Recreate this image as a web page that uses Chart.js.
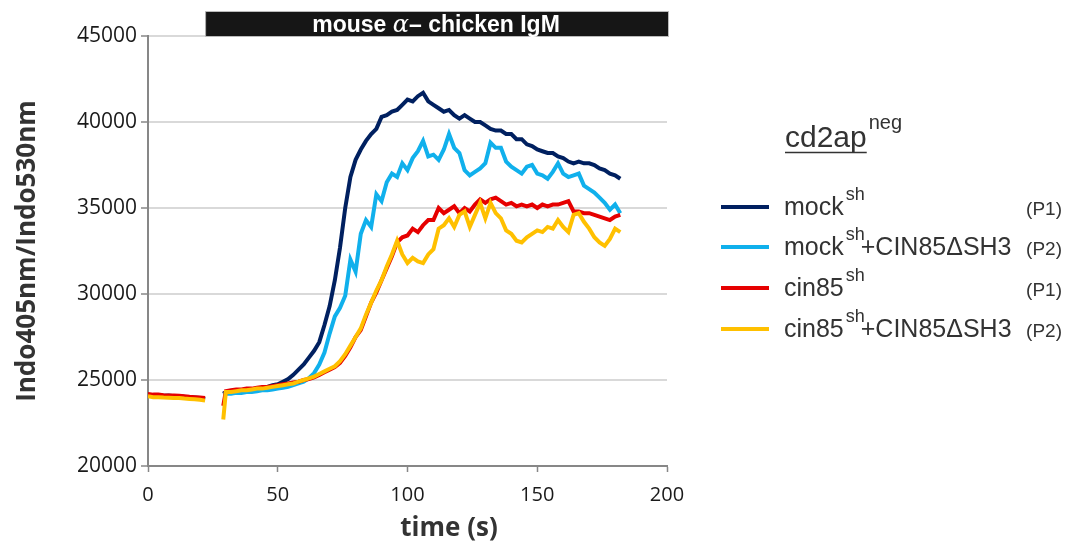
<!DOCTYPE html>
<html>
<head>
<meta charset="utf-8">
<script src="https://cdn.jsdelivr.net/npm/chart.js@4"></script>
<style>
  html, body { margin: 0; padding: 0; background: #fff; }
</style>
</head>
<body>
<canvas id="myChart" width="1067" height="544"></canvas>
<script>
// tiempos (s) — el 26 es el hueco entre los dos tramos
const times = [0, 2, 4, 6, 8, 10, 12, 14, 16, 18, 20, 22, 26, 29,
  30, 32, 34, 36, 38, 40, 42, 44, 46, 48, 50, 52, 54, 56, 58, 60,
  62, 64, 66, 68, 70, 72, 74, 76, 78, 80, 82, 84, 86, 88, 90, 92, 94, 96, 98, 100, 102, 104, 106, 108, 110,
  112, 114, 116, 118, 120, 122, 124, 126, 128, 130, 132, 134, 136, 138, 140, 142, 144, 146, 148, 150,
  152, 154, 156, 158, 160, 162, 164, 166, 168, 170, 172, 174, 176, 178, 180, 182];

const mockP1 = [24150, 24120, 24100, 24080, 24100, 24050, 24050, 24020, 24000, 23980, 23950, 23900, null, 24200,
  24300, 24300, 24350, 24400, 24400, 24450, 24500, 24550, 24600, 24700, 24750, 24900, 25050, 25300, 25600, 25900,
  26300, 26700, 27200, 28200, 29300, 30800, 32700, 35000, 36800, 37800, 38400, 38900, 39300, 39600, 40300, 40400, 40600, 40700, 41000, 41300, 41200, 41500, 41700, 41200, 41000,
  40800, 40600, 40700, 40400, 40200, 40400, 40200, 40000, 40000, 39800, 39600, 39500, 39500, 39300, 39300, 39000, 39000, 38700, 38600, 38400,
  38300, 38200, 38200, 38000, 37900, 37700, 37600, 37700, 37600, 37600, 37500, 37300, 37200, 37000, 36900, 36700];

const mockP2 = [24100, 24080, 24060, 24050, 24030, 24000, 24000, 23980, 23960, 23940, 23920, 23880, null, 24150,
  24200, 24200, 24250, 24250, 24300, 24300, 24350, 24400, 24400, 24450, 24500, 24550, 24600, 24700, 24800, 24900,
  25100, 25400, 25900, 26600, 27700, 28700, 29200, 29900, 32000, 31300, 33500, 34300, 33900, 35800, 35400, 36500, 37000, 36800, 37600, 37200, 37900, 38300, 38900, 38000, 38100,
  37800, 38400, 39300, 38500, 38200, 37200, 36900, 37100, 37300, 37600, 38800, 38500, 38500, 37700, 37400, 37200, 37000, 37400, 37500, 37000,
  36900, 36700, 37100, 37600, 37000, 36800, 36900, 37000, 36300, 36100, 35900, 35600, 35300, 34900, 35200, 34700];

const cin85P1 = [24180, 24150, 24150, 24120, 24100, 24100, 24080, 24050, 24020, 24000, 23980, 23950, null, 23500,
  24350, 24400, 24450, 24450, 24500, 24500, 24550, 24600, 24600, 24650, 24700, 24750, 24800, 24850, 24900, 25000,
  25050, 25150, 25300, 25450, 25600, 25750, 26000, 26400, 26900, 27500, 27900, 28700, 29500, 30100, 30800, 31500, 32200, 33000, 33300, 33400, 33800, 33600, 34000, 34300, 34300,
  35000, 34700, 34900, 35100, 34700, 35000, 34800, 35200, 35500, 35300, 35500, 35600, 35400, 35200, 35300, 35100, 35200, 35100, 35200, 35000,
  35200, 35100, 35200, 35200, 35300, 35400, 34800, 34800, 34700, 34700, 34600, 34500, 34400, 34300, 34500, 34600];

const cin85P2 = [24050, 24000, 24000, 23980, 23970, 23950, 23950, 23920, 23900, 23880, 23850, 23800, null, 22700,
  24300, 24300, 24350, 24400, 24400, 24450, 24500, 24500, 24550, 24600, 24650, 24700, 24750, 24800, 24900, 25000,
  25100, 25200, 25350, 25500, 25650, 25800, 26100, 26500, 27000, 27500, 28000, 28800, 29500, 30200, 30800, 31600, 32300, 33100, 32300, 31800, 32100, 31900, 31800, 32300, 32600,
  33800, 34000, 34400, 33900, 34600, 34800, 33900, 34600, 35300, 34400, 35300, 34700, 34400, 33700, 33500, 33100, 33000, 33300, 33500, 33700,
  33600, 33900, 33800, 34300, 33900, 33600, 34600, 34700, 34200, 33800, 33300, 33000, 32800, 33200, 33800, 33600];

const yTicks = [20000, 25000, 30000, 35000, 40000, 45000];
const xTicks = [0, 50, 100, 150, 200];

const seriesNames = ['mock', 'mock', 'cin85', 'cin85'];
const seriesExtra = ['', '+CIN85\u0394SH3', '', '+CIN85\u0394SH3'];
const seriesTags = ['(P1)', '(P2)', '(P1)', '(P2)'];
const seriesColors = ['#002060', '#10b0ec', '#e60000', '#ffc000'];
const stimStart = 22; // comienzo de la barra de estímulo (s)

function pts(values) {
  return times.map((t, i) => ({ x: t, y: values[i] }));
}

const axisGray = '#878787';
const labelFont = '"Open Sans", sans-serif';

// barra negra de estímulo, título del eje x y leyenda a mano
const extras = {
  id: 'extras',
  afterDraw(chart) {
    const ctx = chart.ctx;
    const xs = chart.scales.x;
    const area = chart.chartArea;
    ctx.save();

    // barra
    const bx = xs.getPixelForValue(stimStart);
    ctx.fillStyle = '#161616';
    ctx.fillRect(bx, 12, area.right + 1 - bx, 24);
    ctx.strokeStyle = '#bbbbbb';
    ctx.lineWidth = 1;
    ctx.strokeRect(bx + 0.5, 11.5, area.right + 1 - bx, 25);

    const parts = [
      ['mouse ', 'bold 23px "Liberation Sans", Arial'],
      ['\u03b1', 'italic 24px "DejaVu Serif", serif'],
      ['\u2013 chicken IgM', 'bold 23px "Liberation Sans", Arial']
    ];
    let total = 0;
    parts.forEach(p => { ctx.font = p[1]; total += ctx.measureText(p[0]).width; });
    let tx = (bx + area.right) / 2 - total / 2;
    ctx.fillStyle = '#ffffff';
    ctx.textBaseline = 'alphabetic';
    ctx.textAlign = 'left';
    parts.forEach(p => {
      ctx.font = p[1];
      ctx.fillText(p[0], tx, 32);
      tx += ctx.measureText(p[0]).width;
    });

    // título del eje x (desplazado a la derecha como en el original)
    ctx.fillStyle = '#333333';
    ctx.textAlign = 'center';
    ctx.font = 'bold 26px ' + labelFont;
    ctx.fillText('time (s)', 449, 536);

    // leyenda
    ctx.textAlign = 'left';
    ctx.font = '30px "Liberation Sans", Arial';
    ctx.fillText('cd2ap', 785, 147);
    const hw = ctx.measureText('cd2ap').width;
    ctx.strokeStyle = '#333333';
    ctx.lineWidth = 1.5;
    ctx.beginPath();
    ctx.moveTo(785, 152.5);
    ctx.lineTo(785 + hw, 152.5);
    ctx.stroke();
    ctx.font = '20px "Liberation Sans", Arial';
    ctx.fillText('neg', 787 + hw, 129);

    const rowsY = [207, 247, 288, 329];
    rowsY.forEach((y, i) => {
      ctx.strokeStyle = seriesColors[i];
      ctx.lineWidth = 4;
      ctx.beginPath();
      ctx.moveTo(721, y);
      ctx.lineTo(769, y);
      ctx.stroke();

      ctx.fillStyle = '#333333';
      ctx.textAlign = 'left';
      ctx.font = '25px "Liberation Sans", Arial';
      ctx.fillText(seriesNames[i], 784, y + 8);
      const w = ctx.measureText(seriesNames[i]).width;
      ctx.font = '18px "Liberation Sans", Arial';
      ctx.fillText('sh', 786 + w, y - 7);
      if (seriesExtra[i]) {
        ctx.font = '25px "Liberation Sans", Arial';
        ctx.fillText(seriesExtra[i], 801 + w, y + 8);
      }
      ctx.textAlign = 'right';
      ctx.font = '19px "Liberation Sans", Arial';
      ctx.fillText(seriesTags[i], 1062, y + 8);
    });
    ctx.restore();
  }
};

const ctx = document.getElementById('myChart').getContext('2d');
const data = [mockP1, mockP2, cin85P1, cin85P2];

window.myChart = new Chart(ctx, {
  type: 'line',
  data: {
    datasets: data.map((d, i) => ({
      label: seriesNames[i] + seriesExtra[i],
      data: pts(d),
      borderColor: seriesColors[i],
      borderWidth: 4,
      pointRadius: 0,
      tension: 0,
      fill: false,
      spanGaps: false,
      order: 3 - i
    }))
  },
  options: {
    responsive: false,
    animation: false,
    layout: { padding: { top: 36, right: 400, left: 0, bottom: 0 } },
    plugins: { legend: { display: false }, tooltip: { enabled: false } },
    scales: {
      x: {
        type: 'linear',
        min: 0,
        max: 200,
        afterFit(s) { s.height = 78; },
        afterBuildTicks(s) { s.ticks = xTicks.map(v => ({ value: v })); },
        ticks: {
          color: '#1a1a1a',
          font: { family: labelFont, size: 20 },
          padding: 11
        },
        grid: { drawOnChartArea: false, drawTicks: true, tickLength: 6, tickColor: axisGray, tickWidth: 1.5 },
        border: { display: true, color: axisGray, width: 2 }
      },
      y: {
        min: 20000,
        max: 45000,
        afterFit(s) { s.width = 148; },
        afterBuildTicks(s) { s.ticks = yTicks.map(v => ({ value: v })); },
        ticks: {
          color: '#1a1a1a',
          font: { family: labelFont, size: 21 },
          padding: 4,
          callback: v => String(v)
        },
        grid: { color: '#d9d9d9', lineWidth: 2, drawTicks: true, tickLength: 7, tickColor: axisGray, tickWidth: 1.5 },
        border: { display: true, color: axisGray, width: 2 },
        title: {
          display: true,
          text: 'Indo405nm/Indo530nm',
          color: '#333',
          font: { family: labelFont, size: 26, weight: 'bold' },
          padding: { top: 12, bottom: 0 }
        }
      }
    }
  },
  plugins: [extras]
});
</script>
</body>
</html>
